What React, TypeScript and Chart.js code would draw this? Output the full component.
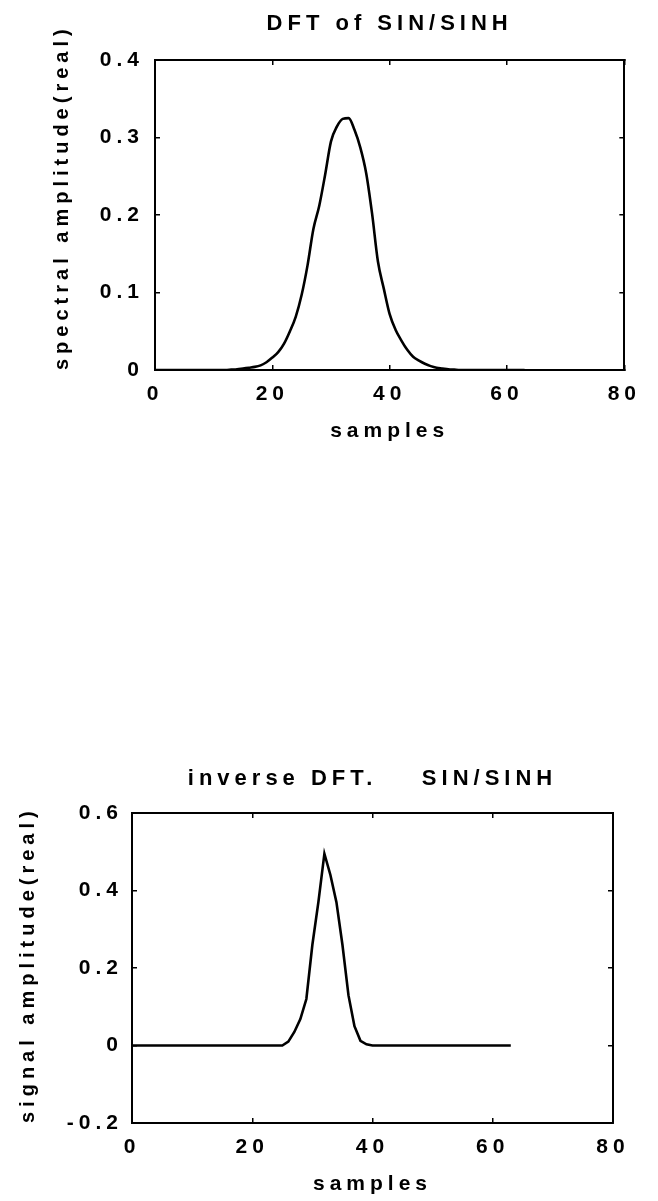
import React, { useEffect, useRef } from "react";
import { Chart, registerables } from "chart.js";

Chart.register(...registerables);

// ---------- data ----------
const topSamples = [
  0, 1, 2, 3, 4, 5, 6, 7, 8, 9, 10, 11, 12, 13, 14, 15, 16, 17, 18, 19, 20, 21, 22, 23, 24, 25, 26, 27, 28, 29, 30, 31,
  32, 33, 34, 35, 36, 37, 38, 39, 40, 41, 42, 43, 44, 45, 46, 47, 48, 49, 50, 51, 52, 53, 54, 55, 56, 57, 58, 59, 60, 61, 62, 63,
];
const topValues = [
  0, 0, 0, 0, 0, 0, 0, 0, 0, 0, 0, 0, 0, 0.0005, 0.001, 0.002, 0.003, 0.004, 0.006, 0.01, 0.016, 0.023, 0.034, 0.05,
  0.069, 0.097, 0.135, 0.182, 0.212, 0.252, 0.295, 0.314, 0.324, 0.325, 0.31, 0.287, 0.254, 0.202, 0.14, 0.105, 0.072,
  0.052, 0.038, 0.026, 0.017, 0.012, 0.008, 0.005, 0.003, 0.002, 0.001, 0.0005, 0, 0, 0, 0, 0, 0, 0, 0, 0, 0, 0, 0,
];

const bottomSamples = [
  0, 1, 2, 3, 4, 5, 6, 7, 8, 9, 10, 11, 12, 13, 14, 15, 16, 17, 18, 19, 20, 21, 22, 23, 24, 25, 26, 27, 28, 29, 30, 31,
  32, 33, 34, 35, 36, 37, 38, 39, 40, 41, 42, 43, 44, 45, 46, 47, 48, 49, 50, 51, 52, 53, 54, 55, 56, 57, 58, 59, 60, 61, 62, 63,
];
const bottomValues = [
  0, 0, 0, 0, 0, 0, 0, 0, 0, 0, 0, 0, 0, 0, 0, 0, 0, 0, 0, 0, 0, 0, 0, 0, 0, 0, 0.01, 0.035, 0.068, 0.12, 0.26, 0.37,
  0.495, 0.44, 0.37, 0.26, 0.13, 0.05, 0.012, 0.003, 0, 0, 0, 0, 0, 0, 0, 0, 0, 0, 0, 0, 0, 0, 0, 0, 0, 0, 0, 0, 0, 0, 0, 0,
];

const xTickValues = [0, 20, 40, 60, 80];
const xTickLabels = ["0", "20", "40", "60", "80"];
const topYTickValues = [0, 0.1, 0.2, 0.3, 0.4];
const topYTickLabels = ["0", "0.1", "0.2", "0.3", "0.4"];
const bottomYTickValues = [-0.2, 0, 0.2, 0.4, 0.6];
const bottomYTickLabels = ["-0.2", "0", "0.2", "0.4", "0.6"];

const topTitle = "DFT of SIN/SINH";
const bottomTitle = "inverse DFT.    SIN/SINH";
const xAxisTitle = "samples";
const topYAxisTitle = "spectral amplitude(real)";
const bottomYAxisTitle = "signal amplitude(real)";

// ---------- styling ----------
const FAMILY = "'Liberation Sans', Arial, sans-serif";
const LETTER_SPACING = "5px";

const spacingPlugin = {
  id: "letterSpacing",
  beforeLayout(chart: any) {
    chart.ctx.letterSpacing = LETTER_SPACING;
  },
  beforeDraw(chart: any) {
    chart.ctx.letterSpacing = LETTER_SPACING;
  },
};

type Layout = {
  width: number;
  height: number;
  yWidth: number;
  rightWidth: number;
  xHeight: number;
  yTitlePad: number;
  yTickPad: number;
  xTitlePadBottom: number;
  titlePadTop: number;
  titlePadBottom: number;
  smooth: boolean;
};

function buildConfig(
  samples: number[],
  values: number[],
  yTickValues: number[],
  yTickLabels: string[],
  title: string,
  yTitle: string,
  L: Layout
): any {
  const xMin = xTickValues[0];
  const xMax = xTickValues[xTickValues.length - 1];
  const yMin = yTickValues[0];
  const yMax = yTickValues[yTickValues.length - 1];
  const grid = { drawOnChartArea: false, drawTicks: true, tickLength: -5, color: "#000", lineWidth: 1.5 };
  const border = { display: true, color: "#000", width: 2 };
  const tickFont = { family: FAMILY, size: 21, weight: "bold" as const };
  const labelFont = { family: FAMILY, size: 20, weight: "bold" as const };
  return {
    type: "line",
    data: {
      datasets: [
        {
          data: samples.map((s, i) => ({ x: s, y: values[i] })),
          borderColor: "#000",
          borderWidth: 2.6,
          pointRadius: 0,
          fill: false,
          tension: L.smooth ? 0.4 : 0,
          cubicInterpolationMode: L.smooth ? "monotone" : "default",
        },
      ],
    },
    options: {
      responsive: false,
      maintainAspectRatio: false,
      animation: false,
      devicePixelRatio: 1,
      layout: { padding: 0 },
      plugins: {
        legend: { display: false },
        tooltip: { enabled: false },
        title: {
          display: true,
          text: title,
          fullSize: false,
          color: "#000",
          font: { family: FAMILY, size: 22, weight: "bold", lineHeight: 1.2 },
          padding: { top: L.titlePadTop, bottom: L.titlePadBottom },
        },
      },
      scales: {
        x: {
          type: "linear",
          position: "bottom",
          min: xMin,
          max: xMax,
          afterBuildTicks: (s: any) => {
            s.ticks = xTickValues.map((v) => ({ value: v }));
          },
          afterFit: (s: any) => {
            s.height = L.xHeight;
          },
          ticks: {
            callback: (_v: any, i: number) => xTickLabels[i],
            font: tickFont,
            color: "#000",
            padding: 17,
            maxRotation: 0,
            autoSkip: false,
          },
          grid,
          border,
          title: {
            display: true,
            text: xAxisTitle,
            color: "#000",
            font: { family: FAMILY, size: 21, weight: "bold" as const },
            padding: { top: 0, bottom: L.xTitlePadBottom },
          },
        },
        x2: {
          type: "linear",
          position: "top",
          min: xMin,
          max: xMax,
          afterBuildTicks: (s: any) => {
            s.ticks = xTickValues.map((v) => ({ value: v }));
          },
          afterFit: (s: any) => {
            s.height = 0;
          },
          ticks: { display: false },
          grid,
          border,
        },
        y: {
          type: "linear",
          position: "left",
          min: yMin,
          max: yMax,
          afterBuildTicks: (s: any) => {
            s.ticks = yTickValues.map((v) => ({ value: v }));
          },
          afterFit: (s: any) => {
            s.width = L.yWidth;
          },
          ticks: {
            callback: (_v: any, i: number) => yTickLabels[i],
            font: tickFont,
            color: "#000",
            padding: L.yTickPad,
            autoSkip: false,
          },
          grid,
          border,
          title: {
            display: true,
            text: yTitle,
            align: "start",
            color: "#000",
            font: labelFont,
            padding: { top: L.yTitlePad, bottom: 0 },
          },
        },
        y2: {
          type: "linear",
          position: "right",
          min: yMin,
          max: yMax,
          afterBuildTicks: (s: any) => {
            s.ticks = yTickValues.map((v) => ({ value: v }));
          },
          afterFit: (s: any) => {
            s.width = L.rightWidth;
          },
          ticks: { display: false },
          grid,
          border,
        },
      },
    },
    plugins: [spacingPlugin],
  };
}

const topLayout: Layout = {
  width: 658,
  height: 460,
  yWidth: 155,
  rightWidth: 20,
  xHeight: 90,
  yTitlePad: 50,
  yTickPad: 16,
  xTitlePadBottom: 16,
  titlePadTop: 11,
  titlePadBottom: 22.6,
  smooth: true,
};

const bottomLayout: Layout = {
  width: 658,
  height: 448,
  yWidth: 132,
  rightWidth: 45,
  xHeight: 78,
  yTitlePad: 16,
  yTickPad: 14,
  xTitlePadBottom: 4,
  titlePadTop: 12.8,
  titlePadBottom: 20.8,
  smooth: false,
};

function PlotCanvas(props: { top: number; layout: Layout; config: () => any }) {
  const ref = useRef<HTMLCanvasElement | null>(null);
  useEffect(() => {
    if (!ref.current) return;
    const chart = new Chart(ref.current, props.config());
    return () => chart.destroy();
  }, []);
  return (
    <canvas
      ref={ref}
      width={props.layout.width}
      height={props.layout.height}
      style={{ position: "absolute", left: 0, top: props.top, width: props.layout.width, height: props.layout.height }}
    />
  );
}

export default function App() {
  return (
    <div style={{ position: "absolute", left: 0, top: 0, width: 658, height: 1201, background: "#fff", overflow: "hidden" }}>
      <PlotCanvas
        top={0}
        layout={topLayout}
        config={() => buildConfig(topSamples, topValues, topYTickValues, topYTickLabels, topTitle, topYAxisTitle, topLayout)}
      />
      <PlotCanvas
        top={753}
        layout={bottomLayout}
        config={() =>
          buildConfig(bottomSamples, bottomValues, bottomYTickValues, bottomYTickLabels, bottomTitle, bottomYAxisTitle, bottomLayout)
        }
      />
    </div>
  );
}
